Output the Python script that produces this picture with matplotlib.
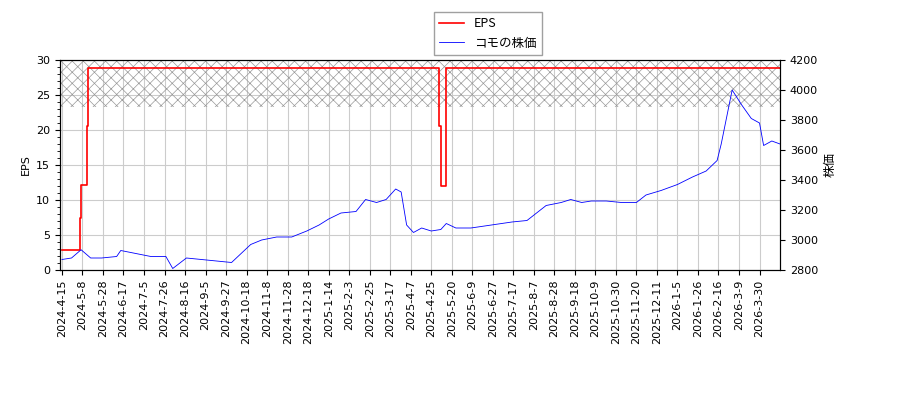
import matplotlib
matplotlib.use('Agg')
import matplotlib.pyplot as plt

plt.rcParams['font.family'] = ['DejaVu Sans', 'Noto Sans CJK JP']
plt.rcParams['font.size'] = 8
plt.rcParams['hatch.linewidth'] = 0.5

tick_labels = ['2024-4-15', '2024-5-8', '2024-5-28', '2024-6-17', '2024-7-5', '2024-7-26',
               '2024-8-16', '2024-9-5', '2024-9-27', '2024-10-18', '2024-11-8', '2024-11-28',
               '2024-12-18', '2025-1-14', '2025-2-3', '2025-2-25', '2025-3-17', '2025-4-7',
               '2025-4-25', '2025-5-20', '2025-6-9', '2025-6-27', '2025-7-17', '2025-8-7',
               '2025-8-28', '2025-9-18', '2025-10-9', '2025-10-30', '2025-11-20', '2025-12-11',
               '2026-1-5', '2026-1-26', '2026-2-16', '2026-3-9', '2026-3-30']

# trading-day index / price
price_day = [0, 7, 14, 21, 29, 40, 43, 54, 65, 76, 81, 91, 102, 113, 124, 131, 138, 146,
             157, 168, 179, 188, 195, 204, 215, 222, 230, 237, 244, 248, 252, 257, 263,
             270, 277, 281, 288, 299, 314, 329, 340, 347, 354, 365, 372, 380, 387, 398,
             409, 420, 427, 438, 450, 461, 471, 479, 482, 490, 497, 504, 510, 513, 519, 525]
price = [2870, 2880, 2935, 2880, 2880, 2890, 2930, 2910, 2890, 2890, 2810, 2880, 2870,
         2860, 2850, 2910, 2970, 3000, 3020, 3020, 3060, 3100, 3140, 3180, 3190, 3270,
         3250, 3270, 3340, 3320, 3100, 3050, 3080, 3060, 3070, 3110, 3080, 3080, 3100,
         3120, 3130, 3180, 3230, 3250, 3270, 3250, 3260, 3260, 3250, 3250, 3300, 3330,
         3370, 3420, 3460, 3530, 3640, 4000, 3900, 3810, 3780, 3630, 3660, 3640]

eps_day = [0, 13, 14, 18, 19, 276, 277, 281, 525]
eps = [2.8, 7.5, 12.2, 20.5, 28.8, 20.5, 12.0, 28.8, 28.8]

fig = plt.figure(figsize=(9, 4), dpi=100)
ax = fig.add_axes([0.0667, 0.325, 0.8, 0.525])
ax2 = ax.twinx()

ax.fill_between([-2, 530], 23.3, 30, facecolor='none', edgecolor='#999999',
                hatch='xxx', linewidth=0)
l1, = ax.plot(eps_day, eps, color='red', drawstyle='steps-post', lw=1.2, label='EPS')
l2, = ax2.plot(price_day, price, color='blue', lw=0.6, label='コモの株価')

ax.set_xlim(-1.4, 525)
ax.set_ylim(0, 30)
ax2.set_ylim(2800, 4200)
ax.set_xticks([i * 15 for i in range(len(tick_labels))])
ax.set_xticklabels(tick_labels, rotation=90)
ax.minorticks_on()
ax.tick_params(axis='x', which='minor', bottom=False)
ax.grid(True, color='#cccccc', lw=0.8)
ax.set_axisbelow(True)
ax.set_ylabel('EPS')
ax2.set_ylabel('株価', family=['Noto Sans CJK JP'], fontsize=9)

fig.legend([l1, l2], ['EPS', 'コモの株価'], loc='upper center',
           bbox_to_anchor=(0.542, 0.985), fancybox=False, edgecolor='#888888',
           prop={'family': ['Noto Sans CJK JP'], 'size': 9})

fig.savefig('out.png')
